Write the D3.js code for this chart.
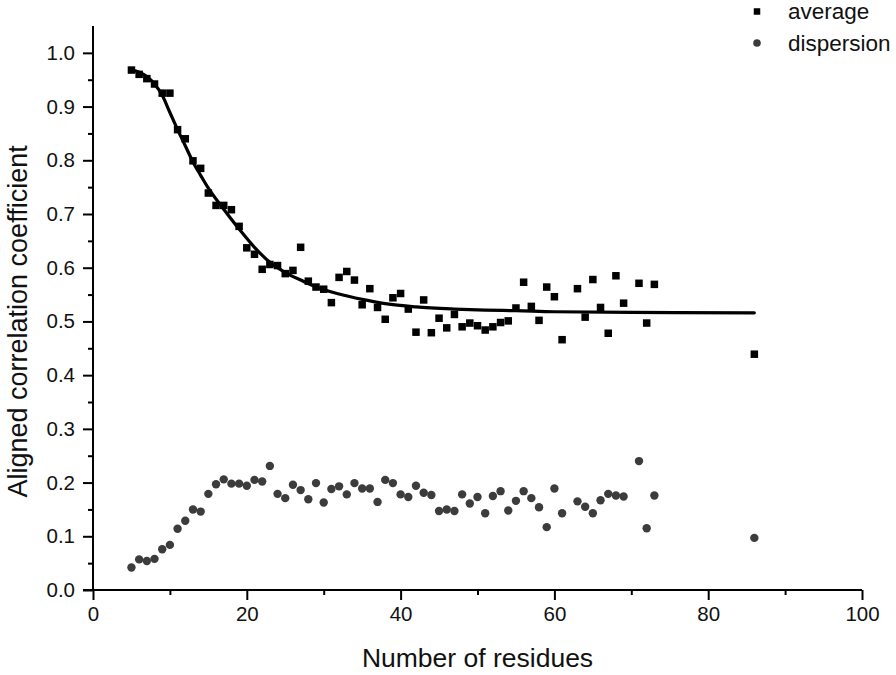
<!DOCTYPE html>
<html>
<head>
<meta charset="utf-8">
<script src="https://cdn.jsdelivr.net/npm/d3@7/dist/d3.min.js"></script>
<style>
  html, body { margin: 0; padding: 0; background: #fff; }
  svg { display: block; font-family: "Liberation Sans", Arial, sans-serif; }
</style>
</head>
<body>
<svg id="chart" width="896" height="675"></svg>
<script>
// ---- data ----
const avgX = [5,6,7,8,9,10,11,12,13,14,15,16,17,18,19,20,21,22,23,24,25,26,27,28,29,30,31,32,33,34,35,36,37,38,39,40,41,42,43,44,45,46,47,48,49,50,51,52,53,54,55,56,57,58,59,60,61,63,64,65,66,67,68,69,71,72,73,86];
const avgY = [0.968,0.960,0.952,0.942,0.925,0.925,0.857,0.840,0.799,0.785,0.739,0.716,0.716,0.708,0.677,0.637,0.625,0.597,0.606,0.604,0.589,0.595,0.638,0.575,0.564,0.560,0.535,0.582,0.593,0.577,0.531,0.561,0.526,0.504,0.544,0.552,0.523,0.480,0.540,0.479,0.506,0.488,0.513,0.490,0.497,0.492,0.484,0.490,0.498,0.501,0.525,0.573,0.528,0.502,0.564,0.546,0.466,0.561,0.508,0.578,0.526,0.478,0.585,0.534,0.571,0.497,0.569,0.439];

const dispX = [5,6,7,8,9,10,11,12,13,14,15,16,17,18,19,20,21,22,23,24,25,26,27,28,29,30,31,32,33,34,35,36,37,38,39,40,41,42,43,44,45,46,47,48,49,50,51,52,53,54,55,56,57,58,59,60,61,63,64,65,66,67,68,69,71,72,73,86];
const dispY = [0.042,0.057,0.054,0.058,0.076,0.084,0.114,0.129,0.150,0.146,0.179,0.197,0.206,0.198,0.198,0.194,0.205,0.202,0.231,0.179,0.171,0.196,0.186,0.169,0.199,0.163,0.188,0.193,0.178,0.199,0.189,0.189,0.164,0.205,0.199,0.178,0.173,0.194,0.181,0.177,0.147,0.150,0.147,0.178,0.161,0.173,0.143,0.175,0.184,0.148,0.166,0.184,0.171,0.154,0.117,0.189,0.143,0.165,0.155,0.143,0.167,0.179,0.176,0.174,0.240,0.115,0.176,0.097];

const fitX = [5,6,7,8,9,10,11,12,13,14,15,17,19,21,23,25,27,29,32,35,38,42,47,51,55,60,70,86];
const fitY = [0.968,0.964,0.956,0.942,0.921,0.889,0.857,0.827,0.797,0.772,0.748,0.709,0.672,0.638,0.610,0.591,0.577,0.564,0.551,0.541,0.533,0.527,0.523,0.521,0.520,0.518,0.517,0.516];

const xMajorTicks = [0,20,40,60,80,100];
const xMinorTicks = [10,30,50,70,90];
const yMajorTicks = [0.0,0.1,0.2,0.3,0.4,0.5,0.6,0.7,0.8,0.9,1.0];
const yMinorTicks = [0.05,0.15,0.25,0.35,0.45,0.55,0.65,0.75,0.85,0.95];

const seriesNames = ["average","dispersion"];
const xTitle = "Number of residues";
const yTitle = "Aligned correlation coefficient";

// ---- drawing ----
const svg = d3.select("#chart");
const x = d3.scaleLinear().domain([0,100]).range([93,862]);
const y = d3.scaleLinear().domain([0,1.05]).range([590,26]);

const fmt = d3.format(".1f");
const tickFont = 20.5;

// X axis
const gx = svg.append("g").attr("transform", `translate(0,${y(0)})`);
gx.call(d3.axisBottom(x).tickValues(xMajorTicks).tickSize(10).tickPadding(6).tickFormat(d3.format("d")));
svg.append("g").attr("transform", `translate(0,${y(0)})`)
  .call(d3.axisBottom(x).tickValues(xMinorTicks).tickSize(5).tickFormat(""))
  .select(".domain").remove();

// Y axis
const gy = svg.append("g").attr("transform", `translate(${x(0)},0)`);
gy.call(d3.axisLeft(y).tickValues(yMajorTicks).tickSize(10).tickPadding(8).tickFormat(fmt));
svg.append("g").attr("transform", `translate(${x(0)},0)`)
  .call(d3.axisLeft(y).tickValues(yMinorTicks).tickSize(5).tickFormat(""))
  .select(".domain").remove();

svg.selectAll(".domain").attr("stroke", "#000").attr("stroke-width", 2);
gx.select(".domain").attr("d", `M${x(0)-10},0H${x(100)}`);
gy.select(".domain").attr("d", `M0,${y(1.05)}V${y(0)}`);
svg.selectAll(".tick line").attr("stroke", "#000").attr("stroke-width", 2);
svg.selectAll(".tick text").attr("font-size", tickFont).attr("fill", "#111")
  .attr("font-family", "'Liberation Sans', Arial, sans-serif");

// Axis titles
svg.append("text")
  .attr("x", (x(0)+x(100))/2).attr("y", 667)
  .attr("text-anchor", "middle").attr("font-size", 26.5).attr("fill", "#111")
  .text(xTitle);
svg.append("text")
  .attr("transform", `translate(27,${y(0.5)}) rotate(-90)`)
  .attr("text-anchor", "middle").attr("font-size", 27).attr("fill", "#111")
  .text(yTitle);

// Fit curve
const fitData = fitX.map((d,i) => [d, fitY[i]]);
svg.append("path")
  .datum(fitData)
  .attr("fill", "none").attr("stroke", "#000").attr("stroke-width", 3.2)
  .attr("stroke-linecap", "round")
  .attr("d", d3.line().x(d => x(d[0])).y(d => y(d[1])).curve(d3.curveMonotoneX));

// Average squares
const sq = 7.5;
svg.append("g").selectAll("rect")
  .data(avgX.map((d,i) => [d, avgY[i]]))
  .join("rect")
  .attr("x", d => x(d[0]) - sq/2).attr("y", d => y(d[1]) - sq/2)
  .attr("width", sq).attr("height", sq).attr("fill", "#000");

// Dispersion circles
svg.append("g").selectAll("circle")
  .data(dispX.map((d,i) => [d, dispY[i]]))
  .join("circle")
  .attr("cx", d => x(d[0])).attr("cy", d => y(d[1]))
  .attr("r", 4.2).attr("fill", "#3c3c3c");

// Legend
const lg = svg.append("g");
lg.append("rect").attr("x", 757 - sq/2 + 0.5).attr("y", 12 - sq/2).attr("width", sq-1).attr("height", sq-1).attr("fill", "#000");
lg.append("text").attr("x", 788).attr("y", 19).attr("font-size", 22.5).attr("fill", "#111").text(seriesNames[0]);
lg.append("circle").attr("cx", 757).attr("cy", 43).attr("r", 3.8).attr("fill", "#3c3c3c");
lg.append("text").attr("x", 788).attr("y", 51).attr("font-size", 22.5).attr("fill", "#111").text(seriesNames[1]);
</script>
</body>
</html>
